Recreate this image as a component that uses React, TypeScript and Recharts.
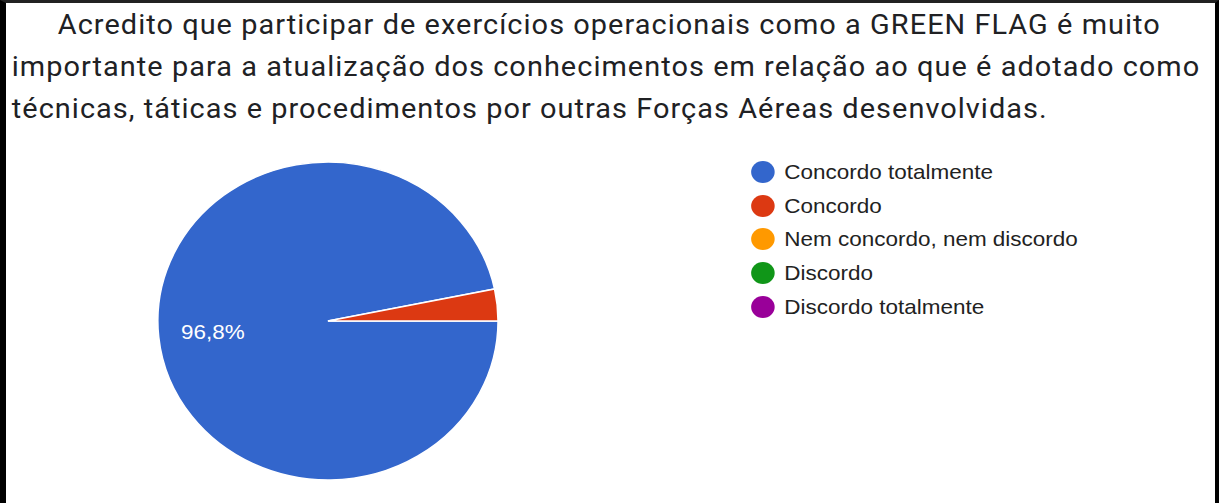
import {PieChart, Pie, Cell, Legend} from 'recharts';

const TITLE_LINES = [
    'Acredito que participar de exercícios operacionais como a GREEN FLAG é muito',
    'importante para a atualização dos conhecimentos em relação ao que é adotado como',
    'técnicas, táticas e procedimentos por outras Forças Aéreas desenvolvidas.',
];

const CATEGORIES = ['Concordo totalmente', 'Concordo', 'Nem concordo, nem discordo', 'Discordo', 'Discordo totalmente'];
const VALUES = [30, 1, 0, 0, 0];
const COLORS = ['#3366cc', '#dc3912', '#ff9900', '#109618', '#990099'];

const SX = 1.07;
const RADIAN = Math.PI / 180;

const chartData = CATEGORIES.map((name, i) => ({name, value: VALUES[i]}));

const renderLabel = (props: any) => {
    const {cx, cy, midAngle, outerRadius, percent} = props;
    if (percent < 0.05) return null;
    const r = outerRadius * 0.68;
    const x = cx + r * Math.cos(-midAngle * RADIAN);
    const y = cy + r * Math.sin(-midAngle * RADIAN);
    const txt = (percent * 100).toFixed(1).replace('.', ',') + '%';
    return (
        <text x={x} y={y} fill="#ffffff" textAnchor="middle" dominantBaseline="central"
              style={{fontFamily: 'Liberation Sans, Arial, sans-serif', fontSize: 21}}>
            {txt}
        </text>
    );
};

const renderLegend = () => (
    <div style={{fontFamily: 'Liberation Sans, Arial, sans-serif', fontSize: 21, color: '#222222'}}>
        {CATEGORIES.map((name, i) => (
            <div key={name} style={{display: 'flex', alignItems: 'center', height: 33.75}}>
                <span style={{
                    width: 22, height: 22, borderRadius: '50%', background: COLORS[i],
                    display: 'inline-block', marginRight: 9,
                }}/>
                <span>{name}</span>
            </div>
        ))}
    </div>
);

export default function App() {
    return (
        <div style={{
            position: 'absolute', left: 0, top: 0, width: 1219, height: 503, background: '#ffffff',
            borderLeft: '6px solid #000', borderTop: '3px solid #222', borderRight: '4px solid #000',
            boxSizing: 'border-box', overflow: 'hidden',
        }}>
            <div style={{
                position: 'absolute', left: -6, top: -3, width: 1219 / SX, height: 503,
                transform: `scaleX(${SX})`, transformOrigin: '0 0',
            }}>
                <div style={{
                    position: 'absolute', left: 11, top: 4, fontFamily: 'Roboto, sans-serif',
                    fontSize: 27, lineHeight: '42px', letterSpacing: 0.98, color: '#202124', whiteSpace: 'nowrap',
                }}>
                    {TITLE_LINES.map((line, i) => (
                        <div key={i} style={{paddingLeft: i === 0 ? 43 : 0}}>{line}</div>
                    ))}
                </div>
                <div style={{position: 'absolute', left: 0, top: 0}}>
                    <PieChart width={1139} height={503} margin={{top: 0, right: 0, bottom: 0, left: 0}}>
                        <Pie
                            data={chartData}
                            dataKey="value"
                            nameKey="name"
                            cx={306.5}
                            cy={321}
                            outerRadius={159}
                            startAngle={0}
                            endAngle={-360}
                            stroke="#ffffff"
                            strokeWidth={1.5}
                            label={renderLabel}
                            labelLine={false}
                            isAnimationActive={false}
                        >
                            {chartData.map((_entry, index) => (
                                <Cell key={`cell-${index}`} fill={COLORS[index]}/>
                            ))}
                        </Pie>
                        <Legend
                            layout="vertical"
                            verticalAlign="middle"
                            align="center"
                            content={renderLegend}
                            wrapperStyle={{left: 702, top: 155, width: 400}}
                        />
                    </PieChart>
                </div>
            </div>
        </div>
    );
}
